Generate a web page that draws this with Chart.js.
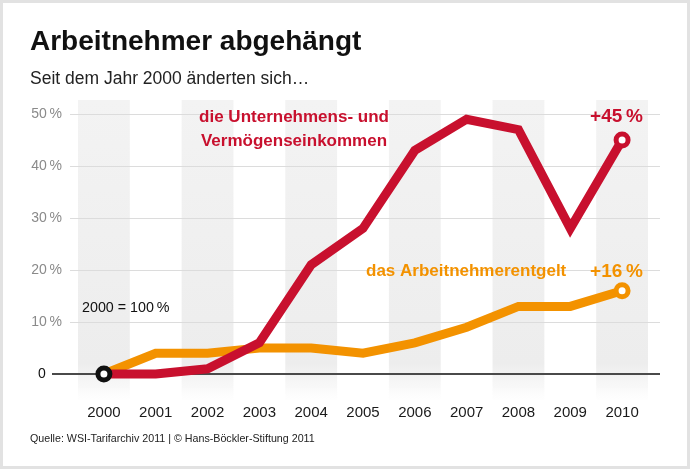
<!DOCTYPE html>
<html>
<head>
<meta charset="utf-8">
<script src="https://cdn.jsdelivr.net/npm/chart.js@4"></script>
<style>
html,body{margin:0;padding:0;background:#fff}
#wrap{position:relative;width:690px;height:469px;box-sizing:border-box;border:3px solid #e2e2e2}
canvas{position:absolute;left:-3px;top:-3px}
</style>
</head>
<body>
<div id="wrap"><canvas id="c" width="690" height="469"></canvas></div>
<script>
// Daten: Veränderung seit 2000 in %
const years=["2000","2001","2002","2003","2004","2005","2006","2007","2008","2009","2010"]
const unternehmen=[0,0,1,6,21,28,43,49,47,28,45]
const arbeitnehmer=[0,4,4,5,5,4,6,9,13,13,16]
const yTicks=[0,10,20,30,40,50]

const RED="#c8102e"
const ORANGE="#f39200"
const FONT="'Liberation Sans', Arial, sans-serif"

const last=years.length-1

function radii(first){
return years.map((y,i)=>(i===last||(first&&i===0))?6:0)
}

// bands, grid and zero line
const background={
id:"background",
beforeDatasetsDraw(chart){
const ctx=chart.ctx
const x=chart.scales.x
const y=chart.scales.y
const area=chart.chartArea
const w=x.getPixelForValue(1)-x.getPixelForValue(0)
ctx.save()
for(let i=0;i<years.length;i+=2){
let cx=x.getPixelForValue(i)
let g=ctx.createLinearGradient(0,area.top,0,area.bottom)
g.addColorStop(0,"#f3f3f3")
g.addColorStop(0.88,"#ededed")
g.addColorStop(1,"rgba(237,237,237,0)")
ctx.fillStyle=g
ctx.fillRect(cx-w/2,area.top,w,area.bottom-area.top)
}
ctx.strokeStyle="#dcdcdc"
ctx.lineWidth=1
yTicks.forEach(v=>{
if(v===0)return
let py=Math.round(y.getPixelForValue(v))+0.5
ctx.beginPath()
ctx.moveTo(70,py)
ctx.lineTo(660,py)
ctx.stroke()
})
ctx.strokeStyle="#4a4a4a"
ctx.lineWidth=2
let p0=Math.round(y.getPixelForValue(0))
ctx.beginPath()
ctx.moveTo(52,p0)
ctx.lineTo(660,p0)
ctx.stroke()
ctx.restore()
}
}

// title, labels, source
const texts={
id:"texts",
afterDraw(chart){
const ctx=chart.ctx
ctx.save()
ctx.textBaseline="alphabetic"
ctx.fillStyle="#111"
ctx.font="bold 28px "+FONT
ctx.fillText("Arbeitnehmer abgehängt",30,50)
ctx.font="17.5px "+FONT
ctx.fillStyle="#222"
ctx.fillText("Seit dem Jahr 2000 änderten sich…",30,84)

ctx.font="bold 17px "+FONT
ctx.fillStyle=RED
ctx.textAlign="center"
ctx.fillText("die Unternehmens- und",294,122)
ctx.fillText("Vermögenseinkommen",294,146)
ctx.textAlign="right"
ctx.font="bold 19px "+FONT
ctx.fillText("+45\u202F%",643,122)

ctx.fillStyle=ORANGE
ctx.font="bold 17px "+FONT
ctx.textAlign="left"
ctx.fillText("das Arbeitnehmerentgelt",366,276)
ctx.textAlign="right"
ctx.font="bold 19px "+FONT
ctx.fillText("+16\u202F%",643,277)

ctx.textAlign="left"
ctx.fillStyle="#111"
ctx.font="14.3px "+FONT
ctx.fillText("2000 = 100\u202F%",82,312)

ctx.fillStyle="#222"
ctx.font="10.7px "+FONT
ctx.fillText("Quelle: WSI-Tarifarchiv 2011 | © Hans-Böckler-Stiftung 2011",30,442)
ctx.restore()
}
}

new Chart(
document.getElementById("c"),
{
type:"line",
data:{
labels:years,
datasets:[{
label:"Unternehmens- und Vermögenseinkommen",
data:unternehmen,
borderColor:RED,
borderWidth:9,
borderJoinStyle:"miter",
tension:0,
pointRadius:radii(true),
pointBorderWidth:5,
pointBackgroundColor:"#fff",
pointBorderColor:years.map((y,i)=>i===0?"#111":RED)
},{
label:"Arbeitnehmerentgelt",
data:arbeitnehmer,
borderColor:ORANGE,
borderWidth:9,
borderJoinStyle:"miter",
tension:0,
pointRadius:radii(false),
pointBorderWidth:5,
pointBackgroundColor:"#fff",
pointBorderColor:ORANGE
}]
},
options:{
responsive:false,
animation:false,
layout:{padding:{top:100,left:0,right:42,bottom:39}},
plugins:{legend:{display:false},tooltip:{enabled:false}},
scales:{
x:{
offset:true,
grid:{display:false,drawTicks:false},
border:{display:false},
ticks:{color:"#1a1a1a",font:{family:FONT,size:15},padding:4},
afterFit(s){s.height=30}
},
y:{
min:-5,
max:52.7,
grid:{display:false,drawTicks:false},
border:{display:false},
afterBuildTicks(s){s.ticks=yTicks.map(v=>({value:v}))},
ticks:{
padding:16,
font:{family:FONT,size:14},
color:c=>c.tick&&c.tick.value===0?"#111":"#8a8a8a",
callback:v=>v===0?"0\u2003\u2006":v+"\u202F%"
},
afterFit(s){s.width=78}
}
}
},
plugins:[background,texts]
})
</script>
</body>
</html>
